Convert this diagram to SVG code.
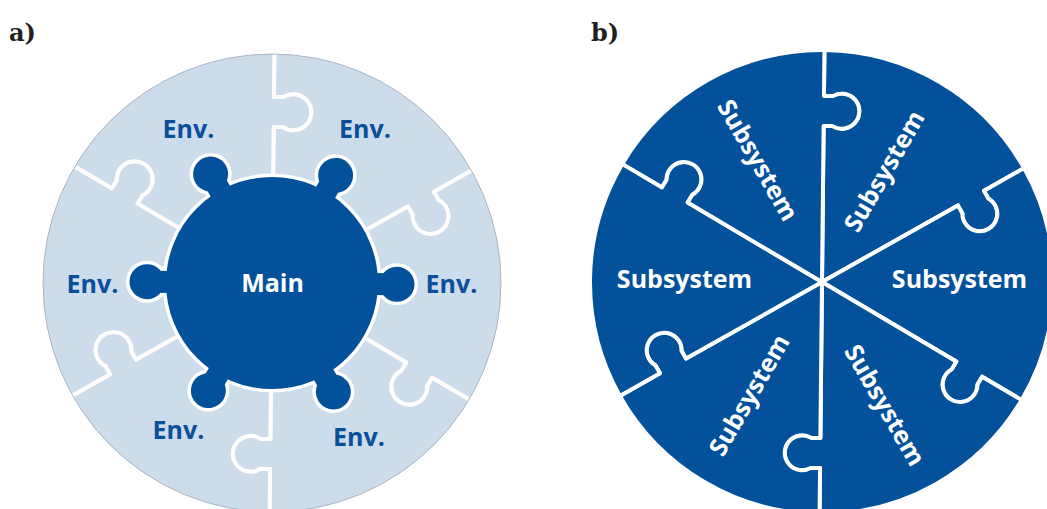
<svg xmlns="http://www.w3.org/2000/svg" xmlns:xlink="http://www.w3.org/1999/xlink" width="1047" height="509" viewBox="0 0 1047 509">
<style>
.lt{fill:#cddcea;stroke:#fff;stroke-width:4;stroke-linejoin:round}
.dk{fill:#03509b;stroke:#fff;stroke-width:4;stroke-linejoin:round}
.env{font-family:"Open Sans","Liberation Sans",sans-serif;font-weight:700;font-size:25px;fill:#0a4f9b;text-anchor:middle}
.wt{font-family:"Open Sans","Liberation Sans",sans-serif;font-weight:700;font-size:25px;fill:#ffffff;text-anchor:middle}
.ttl{font-family:"DejaVu Serif","Liberation Serif",serif;font-weight:700;font-size:24px;fill:#231f20}
.mo{fill:#fff;stroke:#fff;stroke-width:7}
.mf{fill:#03509b}
</style>
<defs>
<path id="pa" d="M0,0 L156,0 L156,9.5 A18,18 0 1 0 186,9.5 L186,0 L231,0 A231,231 0 0 1 115.5,200.05 L93,161.08 L84.77,165.83 A18,18 0 1 1 69.77,139.85 L78,135.1 Z"/>
<path id="pb" d="M0,0 L156,0 L156,9 A17.5,17.5 0 1 0 186,9 L186,0 L232,0 A232,232 0 0 1 116,200.92 L93,161.08 L85.21,165.58 A17.5,17.5 0 1 1 70.21,139.6 L78,135.1 Z"/>
<g id="knob"><rect x="95" y="-11" width="30" height="22"/><circle cx="125" cy="0" r="17.5"/></g>
<g id="ms" transform="translate(272 283)">
<circle cx="0" cy="0" r="106"/>
<use xlink:href="#knob" transform="rotate(0.6)"/>
<use xlink:href="#knob" transform="rotate(60.6)"/>
<use xlink:href="#knob" transform="rotate(120.6)"/>
<use xlink:href="#knob" transform="rotate(180.6)"/>
<use xlink:href="#knob" transform="rotate(240.6)"/>
<use xlink:href="#knob" transform="rotate(300.6)"/>
</g>
</defs>

<text class="ttl" x="9" y="41">a)</text>
<text class="ttl" x="591" y="41">b)</text>

<!-- Diagram a -->
<g id="a-env-1"><use xlink:href="#pa" class="lt" transform="translate(272 283) rotate(-89.4)"/><text class="env" x="365" y="138">Env.</text></g>
<g id="a-env-2"><use xlink:href="#pa" class="lt" transform="translate(272 283) rotate(-29.4)"/><text class="env" x="451.5" y="293">Env.</text></g>
<g id="a-env-3"><use xlink:href="#pa" class="lt" transform="translate(272 283) rotate(30.6)"/><text class="env" x="359" y="446">Env.</text></g>
<g id="a-env-4"><use xlink:href="#pa" class="lt" transform="translate(272 283) rotate(90.6)"/><text class="env" x="178.5" y="439">Env.</text></g>
<g id="a-env-5"><use xlink:href="#pa" class="lt" transform="translate(272 283) rotate(150.6)"/><text class="env" x="92.5" y="293">Env.</text></g>
<g id="a-env-6"><use xlink:href="#pa" class="lt" transform="translate(272 283) rotate(210.6)"/><text class="env" x="188.5" y="138">Env.</text></g>
<circle cx="272" cy="283" r="229" fill="none" stroke="#a9b5c2" stroke-width="1"/>
<g id="a-main">
<use xlink:href="#ms" class="mo"/>
<use xlink:href="#ms" class="mf"/>
<text class="wt" x="272.5" y="292">Main</text>
</g>

<!-- Diagram b -->
<g id="b-sub-1"><use xlink:href="#pb" class="dk" transform="translate(822 282) rotate(-89.4)"/><text class="wt" transform="translate(884 171) rotate(-60)" y="9">Subsystem</text></g>
<g id="b-sub-2"><use xlink:href="#pb" class="dk" transform="translate(822 282) rotate(-29.4)"/><text class="wt" x="959.5" y="288">Subsystem</text></g>
<g id="b-sub-3"><use xlink:href="#pb" class="dk" transform="translate(822 282) rotate(30.6)"/><text class="wt" transform="translate(885 405) rotate(60)" y="9">Subsystem</text></g>
<g id="b-sub-4"><use xlink:href="#pb" class="dk" transform="translate(822 282) rotate(90.6)"/><text class="wt" transform="translate(749 395) rotate(-60)" y="9">Subsystem</text></g>
<g id="b-sub-5"><use xlink:href="#pb" class="dk" transform="translate(822 282) rotate(150.6)"/><text class="wt" x="684.5" y="288">Subsystem</text></g>
<g id="b-sub-6"><use xlink:href="#pb" class="dk" transform="translate(822 282) rotate(210.6)"/><text class="wt" transform="translate(758 160) rotate(60)" y="9">Subsystem</text></g>

<g id="connectors"/>
</svg>
